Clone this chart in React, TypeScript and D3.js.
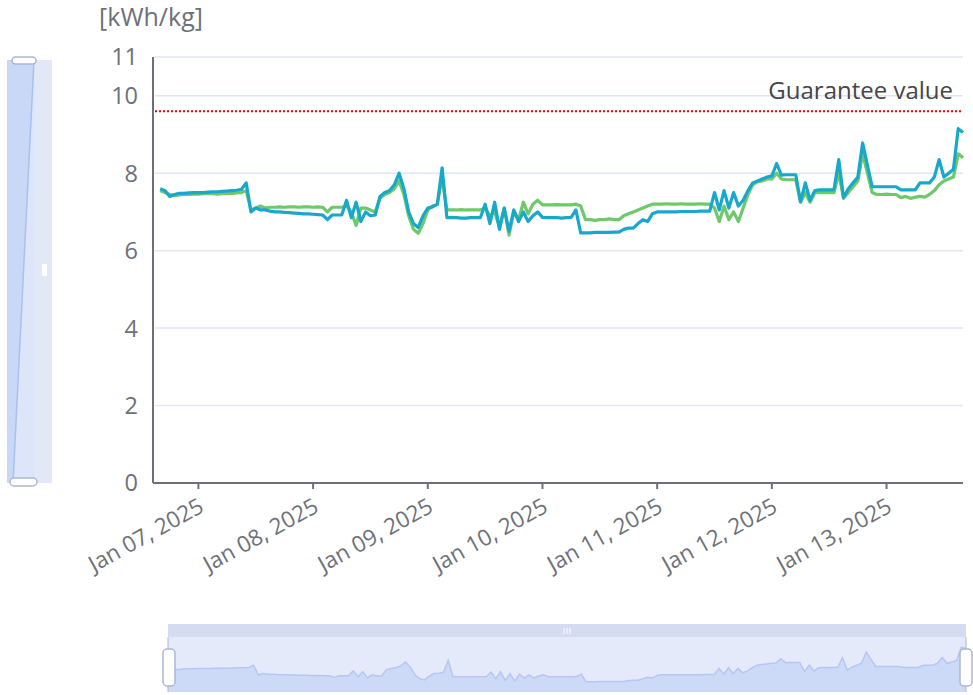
import React from "react";
import * as d3 from "d3";

const START = new Date(2025, 0, 6, 16, 0, 0);

// hourly values, Jan 06 16:00 -> Jan 13 16:00
const seriesBlue = [
  7.6, 7.55, 7.4, 7.45, 7.48, 7.48, 7.49, 7.5, 7.5, 7.5,
  7.51, 7.52, 7.52, 7.53, 7.54, 7.55, 7.56, 7.58, 7.75, 7.0,
  7.1, 7.05, 7.05, 7.02, 7.0, 7.0, 6.99, 6.98, 6.97, 6.96,
  6.95, 6.95, 6.94, 6.93, 6.92, 6.8, 6.92, 6.92, 6.92, 7.3,
  6.85, 7.25, 6.75, 7.0, 6.9, 6.92, 7.4, 7.5, 7.55, 7.7,
  8.0, 7.6, 7.0, 6.7, 6.6, 6.9, 7.1, 7.13, 7.2, 8.14,
  6.85, 6.85, 6.85, 6.84, 6.84, 6.85, 6.85, 6.85, 7.2, 6.7,
  7.25, 6.55, 7.1, 6.5, 7.05, 6.75, 7.0, 6.75, 6.9, 7.0,
  6.86, 6.85, 6.85, 6.85, 6.84, 6.85, 6.86, 7.05, 6.46, 6.46,
  6.46, 6.47, 6.47, 6.47, 6.47, 6.48, 6.48, 6.55, 6.58, 6.58,
  6.7, 6.8, 6.75, 6.95, 7.0, 7.0, 7.0, 7.0, 7.0, 7.01,
  7.01, 7.01, 7.01, 7.02, 7.02, 7.02, 7.5, 7.05, 7.55, 7.1,
  7.5, 7.15, 7.3, 7.55, 7.75, 7.8, 7.85, 7.9, 7.93, 8.25,
  7.95, 7.96, 7.96, 7.96, 7.26, 7.75, 7.3, 7.55, 7.57, 7.57,
  7.57, 7.57, 8.35, 7.37, 7.6, 7.75, 7.9, 8.78, 8.2, 7.65,
  7.65, 7.65, 7.65, 7.65, 7.65, 7.57, 7.57, 7.57, 7.57, 7.75,
  7.75, 7.75, 7.9, 8.35, 7.9, 8.0, 8.1, 9.15, 9.05,
];

const seriesGreen = [
  7.55, 7.5, 7.45, 7.42, 7.44, 7.45, 7.45, 7.46, 7.46, 7.47,
  7.47, 7.47, 7.46, 7.47, 7.48, 7.48, 7.49, 7.5, 7.55, 7.05,
  7.1, 7.15, 7.1, 7.12, 7.12, 7.13, 7.12, 7.13, 7.13, 7.12,
  7.13, 7.13, 7.12, 7.13, 7.12, 7.0, 7.12, 7.12, 7.12, 7.15,
  7.0, 6.65, 7.1, 7.1, 7.05, 7.0, 7.35, 7.45, 7.5, 7.6,
  7.8, 7.45, 6.9, 6.55, 6.45, 6.7, 7.05, 7.15, 7.2, 7.9,
  7.05, 7.05, 7.05, 7.06, 7.05, 7.05, 7.05, 7.05, 7.1, 6.9,
  7.0, 6.6, 7.1, 6.4, 7.0, 6.8, 7.25, 6.95, 7.2, 7.3,
  7.18, 7.18, 7.18, 7.19, 7.18, 7.18, 7.18, 7.2, 7.15, 6.8,
  6.8, 6.78, 6.8, 6.8, 6.82, 6.8, 6.8, 6.9, 6.95, 7.0,
  7.05, 7.1, 7.15, 7.2, 7.2, 7.2, 7.21, 7.2, 7.2, 7.21,
  7.2, 7.2, 7.2, 7.21, 7.2, 7.2, 7.1, 6.75, 7.15, 6.8,
  7.0, 6.75, 7.1, 7.45, 7.7, 7.78, 7.8, 7.85, 7.85, 8.0,
  7.85, 7.83, 7.83, 7.83, 7.25, 7.5, 7.25, 7.5, 7.5, 7.5,
  7.5, 7.5, 8.0, 7.35, 7.5, 7.65, 7.8, 8.5, 8.0, 7.5,
  7.45, 7.45, 7.46, 7.45, 7.45, 7.37, 7.4, 7.35, 7.38, 7.4,
  7.38, 7.45, 7.55, 7.7, 7.8, 7.85, 7.9, 8.5, 8.4,
];

const yTicks = [0, 2, 4, 6, 8, 10, 11];
const guaranteeValue = 9.6;
const unitLabel = "[kWh/kg]";
const guaranteeLabel = "Guarantee value";

const W = 973;
const H = 695;
const FONT = "'Open Sans', sans-serif";
const AXIS = "#6E7079";
const GRID = "#E0E6F1";
const BLUE = "#17A8CB";
const GREEN = "#6DC96A";

export default function App() {
  const times = seriesBlue.map((_, i) => d3.timeHour.offset(START, i));
  const END = times[times.length - 1];
  const x = d3
    .scaleTime()
    .domain([d3.timeMinute.offset(START, -90), END])
    .range([153, 963]);
  const y = d3.scaleLinear().domain([0, 11]).range([483, 57]);
  const dayTicks = d3.timeDay.range(new Date(2025, 0, 7), new Date(2025, 0, 14));
  const fmt = d3.timeFormat("%b %d, %Y");

  const line = d3
    .line<number>()
    .x((_, i) => x(times[i]))
    .y((d) => y(d));

  // bottom slider
  const sx = d3.scaleTime().domain([START, END]).range([168, 966]);
  const ext = d3.extent(seriesBlue) as [number, number];
  const off = (ext[1] - ext[0]) * 0.3;
  const sy = d3
    .scaleLinear()
    .domain([ext[0] - off, ext[1] + off])
    .range([692, 637]);
  const shadowArea = d3
    .area<number>()
    .x((_, i) => sx(times[i]))
    .y0(692)
    .y1((d) => sy(d));
  const shadowLine = d3
    .line<number>()
    .x((_, i) => sx(times[i]))
    .y((d) => sy(d));

  // left vertical slider shadow
  const lx = d3.scaleTime().domain([START, END]).range([13, 34]);
  const ly = d3.scaleLinear().domain([0, times.length - 1]).range([483, 60]);
  const vLine = d3
    .line<Date>()
    .x((t) => lx(t))
    .y((_, i) => ly(i));
  const vArea = d3
    .area<Date>()
    .y((_, i) => ly(i))
    .x0(7)
    .x1((t) => lx(t));

  return (
    <svg
      width={W}
      height={H}
      style={{ position: "fixed", left: 0, top: 0, background: "#fff" }}
      fontFamily={FONT}
    >
      {/* grid */}
      {yTicks.map((t) => (
        <line key={t} x1={155} x2={963} y1={y(t)} y2={y(t)} stroke={GRID} strokeWidth={1.5} />
      ))}
      {/* y axis */}
      <line x1={153} x2={153} y1={y(11)} y2={y(0)} stroke={AXIS} strokeWidth={2} />
      {yTicks.map((t) => (
        <text
          key={t}
          x={138}
          y={y(t)}
          dy="0.36em"
          textAnchor="end"
          fontSize={23.5}
          fill={AXIS}
        >
          {t}
        </text>
      ))}
      <text x={151} y={26} textAnchor="middle" fontSize={25} fill={AXIS}>
        {unitLabel}
      </text>
      {/* x axis */}
      <line x1={153} x2={963} y1={y(0)} y2={y(0)} stroke={AXIS} strokeWidth={2} />
      {dayTicks.map((d) => (
        <g key={+d}>
          <line x1={x(d)} x2={x(d)} y1={y(0)} y2={y(0) + 6} stroke={AXIS} strokeWidth={2} />
          <text
            transform={`translate(${x(d) + 3},${y(0) + 21}) rotate(-29)`}
            textAnchor="end"
            dy="0.35em"
            fontSize={22.5}
            fill={AXIS}
          >
            {fmt(d)}
          </text>
        </g>
      ))}
      {/* guarantee */}
      <line
        x1={155}
        x2={963}
        y1={y(guaranteeValue)}
        y2={y(guaranteeValue)}
        stroke="#FF0000"
        strokeWidth={2}
        strokeDasharray="2,2"
      />
      <text x={953} y={99} textAnchor="end" fontSize={24} fill="#464646">
        {guaranteeLabel}
      </text>
      {/* series */}
      <path d={line(seriesGreen) ?? ""} fill="none" stroke={GREEN} strokeWidth={3.2} strokeLinejoin="round" />
      <path d={line(seriesBlue) ?? ""} fill="none" stroke={BLUE} strokeWidth={3.2} strokeLinejoin="round" />

      {/* bottom slider */}
      <rect x={168} y={624} width={798} height={68} fill="#E4EAFA" />
      <path d={shadowArea(seriesBlue) ?? ""} fill="#CCD9F7" />
      <path d={shadowLine(seriesBlue) ?? ""} fill="none" stroke="#B5C7F2" strokeWidth={1.5} />
      <rect x={168} y={624} width={798} height={13} fill="#D5DCF1" />
      <g stroke="#fff" strokeWidth={1}>
        <line x1={564} x2={564} y1={628} y2={634} />
        <line x1={567} x2={567} y1={628} y2={634} />
        <line x1={570} x2={570} y1={628} y2={634} />
      </g>
      <line x1={168} x2={168} y1={637} y2={692} stroke="#ACB8D1" strokeWidth={1} />
      <line x1={966} x2={966} y1={637} y2={692} stroke="#ACB8D1" strokeWidth={1} />
      <rect x={163} y={649} width={12} height={37} rx={4} fill="#fff" stroke="#ACB8D1" strokeWidth={1.5} />
      <rect x={960} y={649} width={12} height={37} rx={4} fill="#fff" stroke="#ACB8D1" strokeWidth={1.5} />

      {/* left slider */}
      <rect x={7} y={60} width={28} height={423} fill="#DDE5F9" />
      <rect x={35} y={60} width={17} height={423} fill="#E3E8F6" />
      <path d={vArea(times) ?? ""} fill="#C9D8F7" />
      <path d={vLine(times) ?? ""} fill="none" stroke="#A9C0F0" strokeWidth={1.5} />
      <rect x={42} y={264} width={5} height={12} rx={1} fill="#fff" />
      <rect x={12} y={57} width={24} height={7} rx={3.5} fill="#fff" stroke="#ACB8D1" strokeWidth={1.5} />
      <rect x={10} y={478} width={27} height={8} rx={4} fill="#fff" stroke="#ACB8D1" strokeWidth={1.5} />
    </svg>
  );
}
